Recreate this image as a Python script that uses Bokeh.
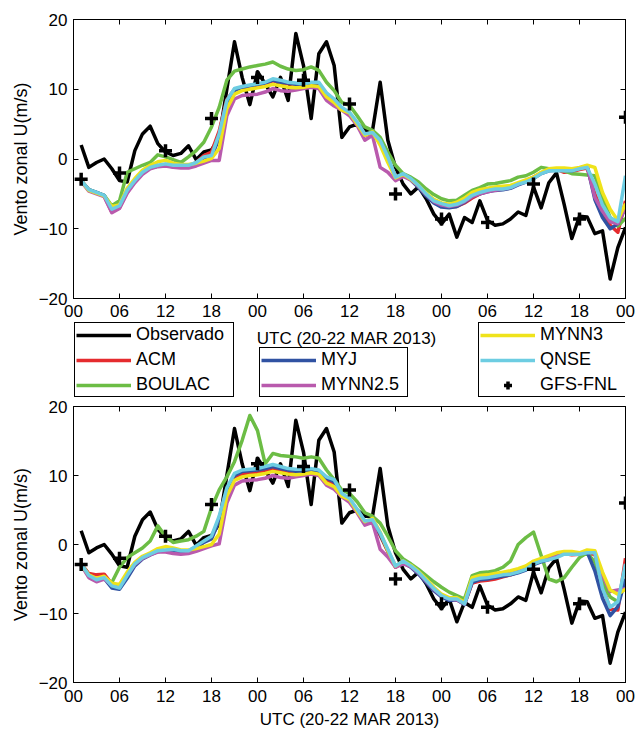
from bokeh.plotting import figure
from bokeh.models import Range1d, FixedTicker, LinearAxis, Legend, LegendItem, Label
from bokeh.layouts import column
from bokeh.embed import file_html
from bokeh.resources import INLINE

# ---------------- data ----------------
hours = list(range(1, 73))
x_ticks = [0, 6, 12, 18, 24, 30, 36, 42, 48, 54, 60, 66, 72]
x_tick_labels = ["00", "06", "12", "18", "00", "06", "12", "18", "00", "06", "12", "18", "00"]
y_ticks = [-20, -10, 0, 10, 20]
x_title = "UTC (20-22 MAR 2013)"
y_title = "Vento zonal U(m/s)"

obs = [2.0, -1.2, -0.5, 0.0, -1.4, -3.1, -3.3, 1.2, 3.6, 4.7, 2.2, 1.0,
       0.5, 0.8, 1.9, -0.1, 1.0, 1.3, 3.0, 10.0, 16.8, 11.7, 7.8, 12.5,
       10.8, 8.9, 11.7, 8.4, 18.0, 13.4, 5.8, 15.1, 16.8, 13.4, 3.1, 4.6,
       5.0, 4.1, 4.1, 11.0, 2.7, -1.2, -3.6, -5.0, -4.0, -5.7, -7.9, -9.3,
       -7.9, -11.2, -8.4, -9.1, -6.0, -8.8, -9.5, -9.3, -8.6, -7.6, -8.1, -4.0,
       -7.0, -3.4, -2.0, -6.5, -11.4, -8.2, -8.3, -10.7, -10.3, -17.2, -12.7, -9.8]

gfs_hours = [1, 6, 12, 18, 24, 30, 36, 42, 48, 54, 60, 66, 72]
gfs = [-2.9, -2.0, 1.2, 5.8, 11.7, 11.3, 7.9, -5.0, -8.6, -9.1, -3.6, -8.6, 6.0]

# top panel models
acm_a = [-3.1, -4.5, -4.9, -5.3, -7.6, -7.0, -4.8, -3.2, -2.0, -1.3, -1.0, -0.8,
         -1.0, -1.1, -1.0, -0.5, 0.5, 1.0, 4.0, 8.5, 10.0, 10.3, 10.5, 10.6,
         10.8, 11.2, 11.0, 10.8, 10.7, 10.6, 10.8, 10.7, 9.3, 8.3, 7.1, 6.4,
         5.0, 3.4, 3.6, 2.4, 0.0, -2.6, -2.3, -2.9, -3.9, -5.1, -6.1, -6.6,
         -6.9, -6.8, -6.3, -5.6, -5.0, -4.6, -4.4, -4.2, -4.0, -3.6, -3.1, -2.6,
         -2.0, -1.6, -1.5, -1.9, -1.8, -1.5, -1.3, -5.0, -7.5, -9.5, -10.5, -6.0]
boulac_a = [-3.1, -4.4, -4.8, -5.2, -6.7, -6.0, -1.9, -1.4, -0.9, -0.5, 0.6, 0.3,
            -0.1, -0.5, 0.3, 1.2, 2.4, 4.6, 7.4, 11.3, 12.6, 12.9, 13.2, 13.4,
            13.6, 13.9, 13.3, 12.9, 12.7, 12.8, 13.2, 12.7, 11.0, 9.8, 8.1, 7.7,
            6.2, 4.6, 4.1, 3.1, 1.0, -0.9, -2.1, -2.6, -3.3, -4.3, -5.1, -5.7,
            -6.0, -5.9, -5.2, -4.5, -4.1, -3.6, -3.5, -3.3, -3.1, -2.6, -2.4, -1.9,
            -1.2, -1.4, -1.4, -1.7, -2.1, -2.2, -2.3, -2.4, -5.5, -8.4, -9.6, -8.5]
myj_a = [-3.1, -4.4, -4.8, -5.2, -7.3, -6.9, -4.6, -3.2, -2.0, -1.3, -1.0, -0.9,
         -1.1, -1.2, -1.1, -0.7, 0.2, 0.3, 3.0, 8.0, 9.8, 10.3, 10.5, 10.7,
         10.9, 11.3, 11.0, 10.9, 10.7, 10.6, 10.9, 10.8, 9.3, 8.4, 7.2, 6.5,
         5.1, 3.5, 3.7, 2.5, 0.1, -2.7, -2.3, -3.0, -4.1, -5.3, -6.3, -6.9,
         -7.0, -6.8, -6.2, -5.4, -5.0, -4.7, -4.5, -4.4, -4.2, -3.7, -3.3, -2.8,
         -2.1, -1.7, -1.6, -1.6, -1.7, -1.3, -1.0, -5.8, -8.4, -10.0, -9.3, -7.0]
mynn25_a = [-3.2, -4.6, -5.0, -5.4, -7.7, -7.1, -4.9, -3.4, -2.2, -1.4, -1.1, -1.0,
            -1.2, -1.3, -1.3, -1.0, -0.6, -0.2, -0.2, 6.2, 8.6, 9.1, 9.2, 9.3,
            9.6, 10.1, 9.8, 9.7, 9.9, 10.1, 10.3, 10.1, 8.4, 7.6, 7.0, 6.2,
            4.8, 2.7, 3.4, -1.2, -1.9, -3.1, -2.5, -3.0, -3.9, -5.1, -6.1, -6.6,
            -6.8, -6.6, -6.1, -5.4, -5.0, -4.7, -4.5, -4.3, -4.1, -3.6, -3.2, -2.7,
            -2.0, -1.6, -1.5, -1.6, -1.6, -1.3, -1.0, -5.5, -7.5, -9.0, -9.3, -7.0]
mynn3_a = [-3.1, -4.5, -4.9, -5.3, -6.8, -6.6, -4.2, -2.8, -1.6, -0.9, -0.4, -0.2,
           -0.6, -0.8, -0.8, -0.6, -0.3, 0.1, 1.5, 7.2, 9.3, 9.8, 10.0, 10.2,
           10.4, 10.7, 10.5, 10.3, 10.2, 10.3, 10.5, 10.4, 8.9, 8.1, 7.0, 6.6,
           5.0, 3.4, 3.9, 2.0, -0.5, -2.7, -2.2, -2.9, -3.8, -4.9, -5.8, -6.3,
           -6.5, -6.2, -5.6, -4.8, -4.4, -4.2, -4.0, -3.9, -3.8, -3.4, -3.0, -2.6,
           -1.9, -1.4, -1.3, -1.3, -1.4, -1.2, -0.9, -1.2, -4.8, -7.2, -8.8, -6.4]
qnse_a = [-3.1, -4.4, -4.8, -5.2, -7.2, -6.7, -4.5, -3.1, -1.9, -1.2, -0.9, -0.7,
          -0.9, -0.9, -0.9, -0.5, 0.3, 0.5, 3.6, 8.4, 10.1, 10.4, 10.6, 10.8,
          11.0, 11.5, 11.3, 11.0, 10.9, 10.8, 11.0, 11.0, 9.5, 8.6, 7.4, 6.7,
          5.3, 3.6, 3.8, 2.7, 0.3, -2.6, -2.1, -2.8, -3.8, -5.0, -6.0, -6.4,
          -6.7, -6.5, -6.0, -5.2, -4.8, -4.5, -4.3, -4.3, -4.1, -3.6, -3.3, -2.8,
          -2.1, -1.7, -1.7, -1.7, -1.7, -1.4, -1.2, -3.6, -6.6, -8.4, -9.0, -2.4]

# bottom panel models
acm_b = [-2.8, -4.2, -4.4, -4.3, -5.7, -6.0, -4.4, -2.8, -1.9, -1.4, -1.0, -0.9,
         -0.8, -1.0, -1.0, -0.4, 0.4, 1.0, 3.8, 8.0, 9.8, 10.2, 10.3, 10.4,
         10.6, 10.9, 10.6, 10.4, 10.3, 10.3, 10.5, 10.2, 9.2, 8.8, 7.0, 6.4,
         4.8, 3.1, 3.4, 1.3, -1.0, -3.3, -2.6, -3.2, -4.1, -5.3, -6.5, -7.4,
         -7.9, -8.0, -8.6, -5.6, -5.3, -5.2, -5.0, -4.7, -4.4, -4.0, -3.5, -2.7,
         -2.3, -2.0, -1.6, -1.3, -1.5, -1.4, -1.3, -1.4, -6.0, -9.4, -9.5, -2.0]
boulac_b = [-2.8, -4.5, -5.1, -4.8, -5.5, -3.3, -1.9, -1.2, -0.5, 0.5, 2.7, 1.2,
            0.3, 0.5, 0.7, 1.2, 1.9, 5.3, 7.9, 9.8, 12.0, 15.1, 18.7, 16.5,
            11.7, 13.2, 12.9, 12.8, 12.7, 12.5, 12.7, 12.5, 10.8, 9.4, 7.9, 7.4,
            6.2, 4.6, 4.1, 3.1, 1.2, -0.9, -2.1, -2.8, -3.6, -4.5, -5.4, -6.2,
            -6.9, -7.4, -7.9, -4.5, -4.1, -4.0, -3.8, -3.3, -2.4, 0.0, 1.0, 1.8,
            -1.6, -5.0, -5.4, -4.8, -3.3, -1.9, -1.2, -2.6, -5.5, -7.6, -8.3, -5.0]
myj_b = [-2.9, -4.6, -5.2, -4.9, -6.3, -6.5, -4.9, -3.1, -2.1, -1.5, -1.0, -0.9,
         -1.0, -1.2, -1.1, -0.5, 0.3, 0.8, 3.5, 7.8, 10.0, 10.6, 10.7, 10.8,
         11.0, 11.3, 11.0, 10.8, 10.6, 10.6, 10.8, 10.6, 9.6, 9.1, 7.2, 6.5,
         5.0, 3.3, 3.5, 1.5, -0.9, -3.2, -2.6, -3.3, -4.3, -5.5, -6.7, -7.6,
         -8.1, -8.0, -8.7, -5.5, -5.1, -5.0, -4.8, -4.6, -4.4, -4.1, -3.7, -2.9,
         -2.5, -2.2, -1.8, -1.3, -1.4, -1.3, -1.1, -3.8, -7.8, -10.3, -9.0, -5.0]
mynn25_b = [-3.0, -4.8, -5.4, -5.0, -5.9, -6.0, -4.4, -2.9, -2.0, -1.5, -1.1, -1.1,
            -1.3, -1.4, -1.3, -1.0, -0.6, -0.2, 0.1, 6.0, 8.6, 9.2, 9.3, 9.4,
            9.6, 10.0, 9.7, 9.6, 9.8, 10.0, 10.2, 10.0, 8.6, 8.0, 6.9, 6.1,
            4.6, 2.8, 3.2, -0.7, -1.8, -3.3, -2.8, -3.2, -4.1, -5.3, -6.5, -7.4,
            -7.9, -8.0, -8.6, -5.0, -4.7, -4.6, -4.4, -4.2, -4.1, -3.8, -3.4, -2.6,
            -2.2, -1.9, -1.6, -1.2, -1.2, -1.3, -1.0, -1.2, -4.5, -6.8, -6.6, -6.4]
mynn3_b = [-2.9, -4.4, -4.9, -4.6, -5.6, -5.8, -4.0, -2.6, -1.7, -1.2, -0.6, -0.3,
           -0.5, -0.8, -0.8, -0.6, -0.3, 0.0, 1.5, 7.0, 9.3, 9.8, 10.0, 10.1,
           10.3, 10.6, 10.4, 10.2, 10.1, 10.2, 10.4, 10.2, 8.9, 8.4, 7.0, 6.5,
           4.8, 3.3, 3.8, 1.8, -0.9, -3.1, -2.4, -3.0, -3.9, -5.0, -6.2, -7.2,
           -7.7, -7.7, -8.4, -4.8, -4.5, -4.4, -4.2, -4.0, -3.8, -3.5, -3.1, -2.4,
           -2.0, -1.6, -1.2, -1.0, -1.0, -1.2, -0.8, -0.9, -4.0, -6.6, -7.2, -6.5]
qnse_b = [-2.8, -4.5, -5.1, -4.8, -6.0, -6.3, -4.5, -2.8, -1.9, -1.4, -0.9, -0.8,
          -0.7, -0.9, -0.9, -0.2, 0.5, 1.2, 4.1, 8.2, 10.3, 10.8, 10.9, 11.0,
          11.3, 11.6, 11.3, 11.0, 10.9, 10.9, 11.0, 10.8, 9.8, 9.4, 7.4, 6.7,
          5.1, 3.4, 3.6, 1.7, -0.7, -3.1, -2.4, -3.1, -4.0, -5.2, -6.4, -7.4,
          -7.9, -7.9, -8.6, -5.2, -4.9, -4.8, -4.6, -4.4, -4.3, -4.0, -3.6, -2.8,
          -2.4, -2.2, -1.9, -1.4, -1.4, -1.4, -1.2, -1.2, -6.4, -9.1, -8.3, -2.8]

model_names = ["ACM", "BOULAC", "MYJ", "MYNN2.5", "MYNN3", "QNSE"]
model_colors = ["#e52b2e", "#6cbd45", "#3052a2", "#b95aad", "#efe31b", "#6dcde2"]
top_models = [acm_a, boulac_a, myj_a, mynn25_a, mynn3_a, qnse_a]
bottom_models = [acm_b, boulac_b, myj_b, mynn25_b, mynn3_b, qnse_b]

FONT = "Liberation Sans"
W = 640
LEFT, RIGHT = 73, 15
LW = 3.5


def style_axis(ax, ticks, labels=None, show_labels=True):
    ax.ticker = FixedTicker(ticks=ticks)
    if labels is not None:
        ax.major_label_overrides = dict(zip(ticks, labels))
    ax.major_tick_in = 5
    ax.major_tick_out = 0
    ax.minor_tick_line_color = None
    ax.major_tick_line_color = "black"
    ax.axis_line_color = "black"
    ax.major_label_text_font = FONT
    if show_labels:
        ax.major_label_text_color = "black"
        ax.major_label_text_font_size = "17px"
        ax.major_label_standoff = 6
    else:
        ax.major_label_text_color = None
        ax.major_label_text_font_size = "1px"
        ax.major_label_standoff = 0


def make_panel(models, height, border_top, border_bottom, with_xtitle):
    p = figure(width=W, height=height, x_range=Range1d(0, 72), y_range=Range1d(-20, 20),
               output_backend="svg", toolbar_location=None,
               min_border_left=LEFT, min_border_right=RIGHT,
               min_border_top=border_top, min_border_bottom=border_bottom)
    p.xgrid.visible = False
    p.ygrid.visible = False
    p.outline_line_color = "black"
    p.background_fill_color = "white"
    p.border_fill_color = "white"

    style_axis(p.xaxis[0], x_ticks, x_tick_labels)
    style_axis(p.yaxis[0], y_ticks)
    p.yaxis.major_label_standoff = 6
    if with_xtitle:
        p.xaxis.major_label_standoff = 7
        p.xaxis.axis_label = x_title
        p.xaxis.axis_label_text_font = FONT
        p.xaxis.axis_label_text_font_size = "17px"
        p.xaxis.axis_label_text_font_style = "normal"
        p.xaxis.axis_label_text_color = "black"
        p.xaxis.axis_label_standoff = 5
    p.yaxis.axis_label = y_title
    p.yaxis.axis_label_text_font = FONT
    p.yaxis.axis_label_text_font_size = "18px"
    p.yaxis.axis_label_text_font_style = "normal"
    p.yaxis.axis_label_text_color = "black"
    p.yaxis.axis_label_standoff = 5

    top_ax = LinearAxis()
    style_axis(top_ax, x_ticks, show_labels=False)
    p.add_layout(top_ax, "above")
    right_ax = LinearAxis()
    style_axis(right_ax, y_ticks, show_labels=False)
    p.add_layout(right_ax, "right")

    p.line(hours, obs, line_color="black", line_width=LW, line_join="round")
    for color, vals in zip(model_colors, models):
        p.line(hours, vals, line_color=color, line_width=LW, line_join="round")
    p.scatter(gfs_hours, gfs, marker="cross", size=13, line_color="black", line_width=3.5)
    return p


p1 = make_panel(top_models, 321, 19, 23, False)
p2 = make_panel(bottom_models, 333, 8, 46, True)

# ---- middle strip: legend boxes and the top panel's x title ----
MID_H = 77
mid = figure(width=W, height=MID_H, x_range=Range1d(LEFT, W - RIGHT), y_range=Range1d(0, MID_H),
             output_backend="svg", toolbar_location=None,
             x_axis_type=None, y_axis_type=None,
             min_border_left=LEFT, min_border_right=RIGHT, min_border_top=0, min_border_bottom=0)
mid.xgrid.visible = False
mid.ygrid.visible = False
mid.outline_line_color = None
mid.background_fill_color = "white"
mid.border_fill_color = "white"
# the legend entries refer to the same series, kept on a range outside this strip
mid.extra_y_ranges = {"hidden": Range1d(1000, 1001)}

leg_r = {}
leg_r["Observado"] = mid.line(hours, obs, line_color="black", line_width=LW, y_range_name="hidden")
for name, color, vals in zip(model_names, model_colors, top_models):
    leg_r[name] = mid.line(hours, vals, line_color=color, line_width=LW, y_range_name="hidden")
leg_r["GFS-FNL"] = mid.scatter(gfs_hours, gfs, marker="cross", size=13, line_color="black",
                               line_width=3.5, y_range_name="hidden")


def make_legend(names, loc, label_width):
    leg = Legend(items=[LegendItem(label=n, renderers=[leg_r[n]]) for n in names],
                 location=loc, orientation="vertical")
    leg.border_line_color = "black"
    leg.border_line_alpha = 1.0
    leg.border_line_width = 1
    leg.background_fill_color = "white"
    leg.background_fill_alpha = 1.0
    leg.label_text_font = FONT
    leg.label_text_font_size = "18px"
    leg.label_text_line_height = 1.0
    leg.label_text_color = "black"
    leg.glyph_width = 55
    leg.glyph_height = 20
    leg.label_height = 20
    leg.label_width = label_width
    leg.label_standoff = 5
    leg.padding = 1
    leg.spacing = 4
    leg.margin = 0
    return leg


mid.add_layout(make_legend(["Observado", "ACM", "BOULAC"], (1, 1), 96))
mid.add_layout(make_legend(["MYJ", "MYNN2.5"], (186, 1), 85))
mid.add_layout(make_legend(["MYNN3", "QNSE", "GFS-FNL"], (405, 1), 85))
mid.add_layout(Label(x=346, y=MID_H - 17, text=x_title, text_align="center",
                     text_baseline="middle", text_font=FONT, text_font_size="17px",
                     text_color="black"))

layout = column(p1, mid, p2, spacing=0)
open("out.html", "w").write(file_html(layout, INLINE))
